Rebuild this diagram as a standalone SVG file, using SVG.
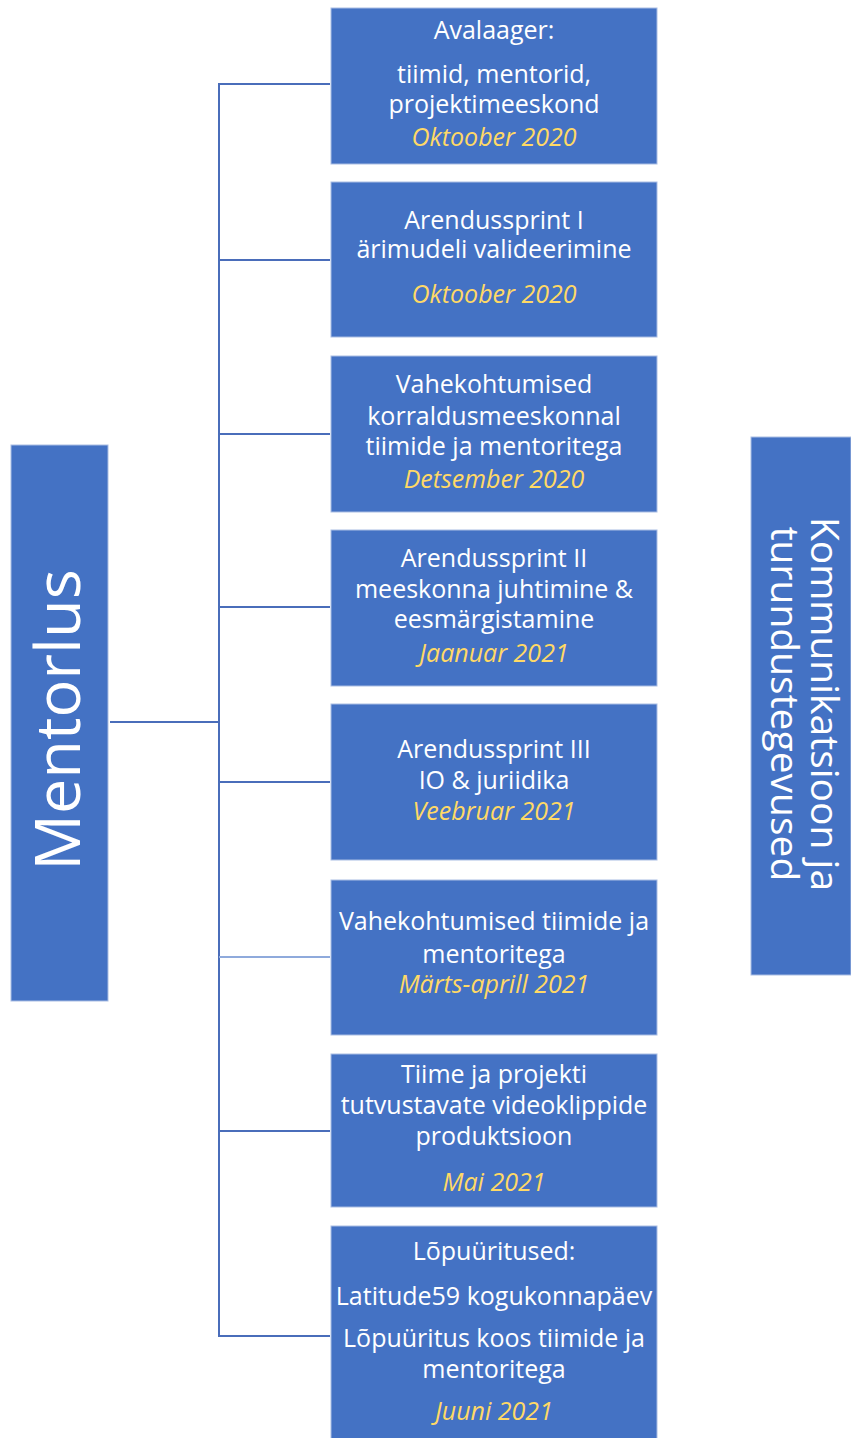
<svg xmlns="http://www.w3.org/2000/svg" width="851" height="1438" viewBox="0 0 851 1438">
<style>
.box{fill:#4472C4;stroke:#a9bde3;stroke-width:1}
.t{font-family:"Open Sans","Liberation Sans",sans-serif;font-size:25px;fill:#ffffff;text-anchor:middle}
.d{font-family:"Open Sans","Liberation Sans",sans-serif;font-size:25px;fill:#FFD966;font-style:italic;text-anchor:middle}
.big{font-family:"Open Sans","Liberation Sans",sans-serif;fill:#ffffff;text-anchor:middle}
.c{stroke:#4a6dba;stroke-width:2;fill:none}
</style>
<rect width="851" height="1438" fill="#ffffff"/>
<g id="connectors">
<line class="c" x1="110" y1="722" x2="219" y2="722"/>
<line class="c" x1="219" y1="84" x2="219" y2="1336"/>
<line class="c" x1="218" y1="84" x2="330" y2="84"/>
<line class="c" x1="219" y1="260" x2="330" y2="260"/>
<line class="c" x1="219" y1="434" x2="330" y2="434"/>
<line class="c" x1="219" y1="607" x2="330" y2="607"/>
<line class="c" x1="219" y1="782" x2="330" y2="782"/>
<line class="c" x1="219" y1="957" x2="330" y2="957" style="stroke:#8faadc"/>
<line class="c" x1="219" y1="1131" x2="330" y2="1131"/>
<line class="c" x1="218" y1="1336" x2="330" y2="1336"/>
</g>
<g id="mentorlus">
<rect class="box" x="11" y="445" width="97" height="556"/>
<text class="big" font-size="63" transform="translate(80,720) rotate(-90)">Mentorlus</text>
</g>
<g id="kommunikatsioon">
<rect class="box" x="751" y="437" width="100" height="538"/>
<text class="big" font-size="39" transform="translate(811,704) rotate(90)">Kommunikatsioon ja</text>
<text class="big" font-size="39" transform="translate(771,704) rotate(90)">turundustegevused</text>
</g>
<g id="n1">
<rect class="box" x="331" y="8" width="326" height="156"/>
<text class="t" x="494" y="39">Avalaager:</text>
<text class="t" x="494" y="83">tiimid, mentorid,</text>
<text class="t" x="494" y="113">projektimeeskond</text>
<text class="d" x="494" y="146">Oktoober 2020</text>
</g>
<g id="n2">
<rect class="box" x="331" y="182" width="326" height="155"/>
<text class="t" x="494" y="229">Arendussprint I</text>
<text class="t" x="494" y="258">ärimudeli valideerimine</text>
<text class="d" x="494" y="303">Oktoober 2020</text>
</g>
<g id="n3">
<rect class="box" x="331" y="356" width="326" height="156"/>
<text class="t" x="494" y="393">Vahekohtumised</text>
<text class="t" x="494" y="425">korraldusmeeskonnal</text>
<text class="t" x="494" y="455">tiimide ja mentoritega</text>
<text class="d" x="494" y="488">Detsember 2020</text>
</g>
<g id="n4">
<rect class="box" x="331" y="530" width="326" height="156"/>
<text class="t" x="494" y="567">Arendussprint II</text>
<text class="t" x="494" y="598">meeskonna juhtimine &amp;</text>
<text class="t" x="494" y="628">eesmärgistamine</text>
<text class="d" x="494" y="662">Jaanuar 2021</text>
</g>
<g id="n5">
<rect class="box" x="331" y="704" width="326" height="156"/>
<text class="t" x="494" y="758">Arendussprint III</text>
<text class="t" x="494" y="789">IO &amp; juriidika</text>
<text class="d" x="494" y="820">Veebruar 2021</text>
</g>
<g id="n6">
<rect class="box" x="331" y="880" width="326" height="155"/>
<text class="t" x="494" y="930">Vahekohtumised tiimide ja</text>
<text class="t" x="494" y="963">mentoritega</text>
<text class="d" x="494" y="993">Märts-aprill 2021</text>
</g>
<g id="n7">
<rect class="box" x="331" y="1054" width="326" height="153"/>
<text class="t" x="494" y="1083">Tiime ja projekti</text>
<text class="t" x="494" y="1114">tutvustavate videoklippide</text>
<text class="t" x="494" y="1145">produktsioon</text>
<text class="d" x="494" y="1191">Mai 2021</text>
</g>
<g id="n8">
<rect class="box" x="331" y="1226" width="326" height="216"/>
<text class="t" x="494" y="1260">Lõpuüritused:</text>
<text class="t" x="494" y="1305">Latitude59 kogukonnapäev</text>
<text class="t" x="494" y="1347">Lõpuüritus koos tiimide ja</text>
<text class="t" x="494" y="1378">mentoritega</text>
<text class="d" x="494" y="1420">Juuni 2021</text>
</g>
</svg>
